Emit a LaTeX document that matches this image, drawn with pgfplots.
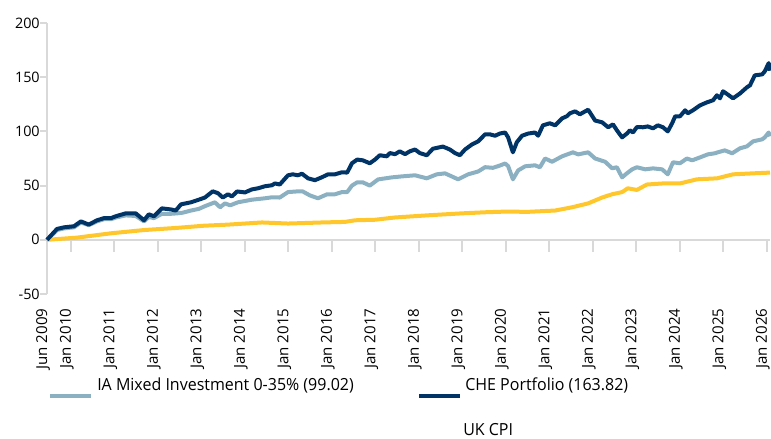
\documentclass[border=0pt]{standalone}
\usepackage{fontspec}
\setmainfont{Open Sans}
\newfontfamily\legfont{Open Sans}[FakeStretch=0.96]
\usepackage{pgfplots}
\pgfplotsset{compat=1.18}
\definecolor{navy}{RGB}{0,51,102}
\definecolor{ialb}{RGB}{138,176,194}
\definecolor{cpiy}{RGB}{255,199,44}
\definecolor{axgray}{RGB}{217,217,217}

\pgfplotstableread{
x y
2009.45 0
2009.68 10
2009.84 11.5
2010.07 12.5
2010.23 17
2010.41 14
2010.60 18
2010.76 20
2010.92 20
2011.03 21.7
2011.26 24.4
2011.49 24.4
2011.68 18
2011.79 23.5
2011.91 21.7
2012.09 29
2012.30 28
2012.41 27
2012.53 32.7
2012.76 34.6
2012.94 37
2013.08 39
2013.26 44.7
2013.38 43
2013.49 39
2013.61 42
2013.70 40
2013.82 44.6
2014.00 43.7
2014.16 46.5
2014.30 47.5
2014.46 49.4
2014.62 50.3
2014.69 52
2014.80 51
2014.99 59.5
2015.10 60.4
2015.22 59.5
2015.31 61
2015.45 56.7
2015.61 55
2015.77 57.7
2015.91 60.4
2016.07 60.4
2016.23 62.3
2016.35 62
2016.46 70.6
2016.58 74
2016.71 73.3
2016.87 70.6
2016.99 74
2017.10 78
2017.26 77
2017.33 80
2017.45 79
2017.56 81.6
2017.68 79
2017.79 81.6
2017.91 83.3
2018.02 80
2018.18 78
2018.32 84
2018.55 86
2018.71 83.3
2018.83 80
2018.94 78
2019.06 83.3
2019.22 88
2019.36 90.8
2019.52 97.3
2019.63 97.3
2019.75 96
2019.86 98
2019.98 99
2020.05 94.5
2020.16 80.7
2020.25 90
2020.37 96
2020.51 98
2020.67 99
2020.74 96
2020.85 105.6
2021.01 107.5
2021.13 105.6
2021.29 112
2021.40 114
2021.47 116.7
2021.59 118.5
2021.70 115.8
2021.89 120
2022.05 110
2022.21 108.4
2022.35 103.8
2022.46 106.5
2022.55 101
2022.67 94.5
2022.78 98
2022.85 101
2022.92 99
2023.01 104
2023.15 103.8
2023.26 104.6
2023.38 102.8
2023.49 105.6
2023.61 103.8
2023.72 100
2023.82 107.5
2023.89 113.9
2024.00 113.9
2024.12 119.5
2024.18 116.7
2024.30 119.5
2024.46 124
2024.62 126.8
2024.76 128.7
2024.85 133.3
2024.92 130.5
2024.99 137
2025.10 134
2025.22 130.5
2025.38 135
2025.54 140.7
2025.61 142.5
2025.72 151.7
2025.89 152.6
2025.95 155.4
2026.04 163
2026.07 156
}\che

\pgfplotstableread{
x y
2009.45 0
2009.68 9
2009.84 10.5
2010.07 11.5
2010.23 16
2010.41 13.5
2010.60 17
2010.76 19
2010.92 19
2011.03 20.5
2011.26 22.5
2011.49 22
2011.68 17
2011.79 21
2011.91 20
2012.09 24
2012.30 24
2012.44 24.4
2012.57 25
2012.76 27
2012.94 28.5
2013.08 31
2013.31 34.6
2013.43 30
2013.54 33.6
2013.66 31.8
2013.84 34.6
2014.16 37
2014.46 38.3
2014.62 39.2
2014.80 39
2014.99 44
2015.22 44.7
2015.33 44.6
2015.49 41
2015.68 38.3
2015.89 42
2016.07 42
2016.23 44
2016.35 44
2016.46 50
2016.58 53
2016.71 53
2016.87 50
2017.06 55.7
2017.38 57.6
2017.61 58.5
2017.91 59.5
2018.18 56.7
2018.41 60.4
2018.60 61.3
2018.90 55.8
2019.13 60.4
2019.36 63
2019.52 67
2019.70 66.4
2019.86 68.5
2019.98 70.4
2020.05 68
2020.16 55.8
2020.28 64
2020.44 67.8
2020.67 68.7
2020.78 66.9
2020.90 75
2021.06 72
2021.29 77
2021.54 80.7
2021.66 78.8
2021.89 80.7
2022.05 75
2022.28 72
2022.44 66
2022.55 66.9
2022.67 57.6
2022.78 61.3
2022.90 65
2023.01 66.9
2023.20 65
2023.38 65.9
2023.59 65
2023.72 60.4
2023.84 71.5
2024.00 70.6
2024.16 75
2024.28 73.3
2024.46 76
2024.64 78.8
2024.80 79.8
2024.87 80.7
2025.03 82.5
2025.20 79.8
2025.38 84.4
2025.54 86.2
2025.68 90.8
2025.89 92.7
2025.95 94.5
2026.04 99
2026.07 95.5
}\ia

\pgfplotstableread{
x y
2009.45 0
2010.14 2
2010.92 6
2011.68 9
2012.44 11
2013.06 13
2013.61 14
2014.39 16
2014.99 15
2015.77 16
2016.30 16.5
2016.53 18
2016.99 18.5
2017.45 20.6
2018.21 22.6
2018.99 24.4
2019.52 25.4
2019.98 26
2020.51 25.8
2021.13 27
2021.52 30
2021.89 33.6
2022.21 39
2022.44 42
2022.67 44
2022.80 47.5
2023.01 46
2023.24 51
2023.61 52
2024.00 52
2024.39 55.8
2024.85 56.7
2025.22 60.4
2025.68 61.3
2026.07 62
}\cpi

\begin{document}
\begin{tikzpicture}
\useasboundingbox (0,0) rectangle (578.25pt,329.25pt);
% zero line with ticks
\begin{axis}[
  at={(35.25pt,149.4pt)}, anchor=south west,
  scale only axis, width=542.25pt, height=162.6pt,
  xmin=2009.45, xmax=2026.07, ymin=0, ymax=200,
  axis x line=bottom, axis y line=none,
  x axis line style={-, draw=axgray, line width=1.5pt},
  xtick={2009.45,2010,2011,2012,2013,2014,2015,2016,2017,2018,2019,2020,2021,2022,2023,2024,2025,2026},
  xticklabels={},
  tick align=outside,
  xtick style={draw=axgray, line width=1.5pt, /pgfplots/major tick length=9pt},
  ytick=\empty,
]
\end{axis}
\begin{axis}[
  at={(35.25pt,108.75pt)}, anchor=south west,
  scale only axis, width=542.25pt, height=203.25pt,
  xmin=2009.45, xmax=2026.07, ymin=-50, ymax=200,
  axis y line*=left, axis x line*=bottom,
  x axis line style={draw=none},
  y axis line style={-, draw=axgray, line width=1.5pt},
  clip=false,
  xtick={2009.45,2010,2011,2012,2013,2014,2015,2016,2017,2018,2019,2020,2021,2022,2023,2024,2025,2026},
  xticklabels={Jun 2009,Jan 2010,Jan 2011,Jan 2012,Jan 2013,Jan 2014,Jan 2015,Jan 2016,Jan 2017,Jan 2018,Jan 2019,Jan 2020,Jan 2021,Jan 2022,Jan 2023,Jan 2024,Jan 2025,Jan 2026},
  xtick style={draw=none, /pgfplots/major tick length=0pt},
  xticklabel style={rotate=90, anchor=base east, inner sep=0pt, font=\fontsize{11.3}{13}\selectfont},
  xticklabel shift=6.5pt,
  ytick={-50,0,50,100,150,200},
  yticklabels={-50,0,50,100,150,200},
  tick align=outside,
  ytick style={draw=axgray, line width=1.5pt, /pgfplots/major tick length=5.25pt},
  yticklabel style={font=\fontsize{10.8}{12}\selectfont, inner sep=1pt},
]
\addplot[cpiy, line width=3pt, line join=round] table {\cpi};
\addplot[ialb, line width=3pt, line join=round] table {\ia};
\addplot[navy, line width=3pt, line join=round] table {\che};
\end{axis}
% legend
\draw[ialb, line width=3pt] (37.5pt,32.25pt) -- (68.25pt,32.25pt);
\node[anchor=base west, inner sep=0pt, font=\legfont\fontsize{12.5}{14}\selectfont] at (72.75pt,36pt) {IA Mixed Investment 0-35\% (99.02)};
\draw[navy, line width=3pt] (314.25pt,32.25pt) -- (345pt,32.25pt);
\node[anchor=base west, inner sep=0pt, font=\legfont\fontsize{12.5}{14}\selectfont] at (348.75pt,36pt) {CHE Portfolio (163.82)};
\node[anchor=base west, inner sep=0pt, font=\legfont\fontsize{12.5}{14}\selectfont] at (347.25pt,2.25pt) {UK CPI};
\end{tikzpicture}
\end{document}
